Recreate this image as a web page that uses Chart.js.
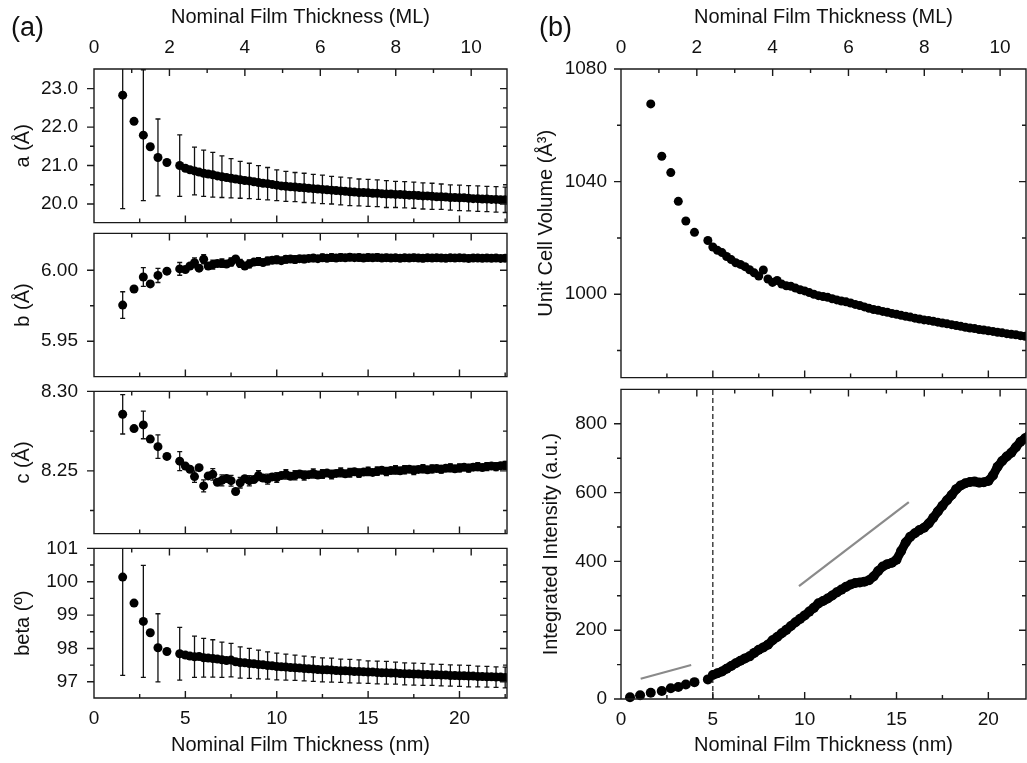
<!DOCTYPE html>
<html>
<head>
<meta charset="utf-8">
<script src="https://cdn.jsdelivr.net/npm/chart.js@4.4.1/dist/chart.umd.min.js"></script>
<style>
  body { margin: 0; background: #fff; }
  #fig { position: relative; width: 1027px; height: 763px; overflow: hidden; font-family: "Liberation Sans", Arial, sans-serif; }
  #fig canvas { position: absolute; }
  .tag { position: absolute; font-size: 27px; line-height: 1; color: #111; }
</style>
</head>
<body>
<div id="fig">
  <canvas id="cA"></canvas>
  <canvas id="cB"></canvas>
  <canvas id="cC"></canvas>
  <canvas id="cBeta"></canvas>
  <canvas id="cVol"></canvas>
  <canvas id="cInt"></canvas>
  <div class="tag" style="left:11px;top:14px">(a)</div>
  <div class="tag" style="left:539px;top:14px">(b)</div>
</div>
<script>
// ---- thickness grids (nm) ----
var leftEarlyNm = [1.57, 2.19, 2.70, 3.08, 3.50, 3.99, 4.69];
var volEarlyNm = [1.62, 2.22, 2.71, 3.12, 3.53, 4.00, 4.73];
var intEarlyNm = [0.49, 1.04, 1.62, 2.22, 2.71, 3.12, 3.53, 4.00, 4.73];
var denseNm = [
  5.00, 5.25, 5.50, 5.75, 6.00, 6.25, 6.50, 6.75, 7.00, 7.25,
  7.50, 7.75, 8.00, 8.25, 8.50, 8.75, 9.00, 9.25, 9.50, 9.75,
  10.00, 10.25, 10.50, 10.75, 11.00, 11.25, 11.50, 11.75, 12.00, 12.25,
  12.50, 12.75, 13.00, 13.25, 13.50, 13.75, 14.00, 14.25, 14.50, 14.75,
  15.00, 15.25, 15.50, 15.75, 16.00, 16.25, 16.50, 16.75, 17.00, 17.25,
  17.50, 17.75, 18.00, 18.25, 18.50, 18.75, 19.00, 19.25, 19.50, 19.75,
  20.00, 20.25, 20.50, 20.75, 21.00, 21.25, 21.50, 21.75, 22.00, 22.25,
  22.50
];
// positions that carry an error bar
var errNm = [1.57, 2.70, 3.50, 4.69, 5.5, 6, 6.5, 7, 7.5, 8, 8.5, 9, 9.5, 10,
  10.5, 11, 11.5, 12, 12.5, 13, 13.5, 14, 14.5, 15, 15.5, 16, 16.5, 17, 17.5,
  18, 18.5, 19, 19.5, 20, 20.5, 21, 21.5, 22, 22.5];

// ---- axis ticks ----
var nmTicks = [0, 5, 10, 15, 20];
var nmMinor = [2.5, 7.5, 12.5, 17.5, 22.5];
var mlTicks = [0, 2, 4, 6, 8, 10];
var mlMinor = [1, 3, 5, 7, 9];
var nmPerMl = 2.064;

// ---- a (Å) ----
var aEarly = [22.83, 22.15, 21.79, 21.49, 21.21, 21.08, 21.00];
var aDense = [
  20.93, 20.89, 20.86, 20.83, 20.80, 20.78, 20.76, 20.73, 20.71, 20.69,
  20.67, 20.65, 20.63, 20.61, 20.60, 20.58, 20.56, 20.54, 20.53, 20.51,
  20.49, 20.47, 20.46, 20.45, 20.44, 20.43, 20.42, 20.41, 20.40, 20.39,
  20.38, 20.37, 20.36, 20.35, 20.34, 20.33, 20.32, 20.31, 20.30, 20.30,
  20.29, 20.28, 20.28, 20.27, 20.26, 20.26, 20.25, 20.25, 20.24, 20.23,
  20.23, 20.22, 20.21, 20.21, 20.20, 20.19, 20.19, 20.18, 20.17, 20.17,
  20.16, 20.16, 20.15, 20.14, 20.14, 20.13, 20.13, 20.12, 20.12, 20.11,
  20.11
];
var aErr = [2.95, 1.70, 1.00, 0.80,
  0.62, 0.60, 0.58, 0.54, 0.51, 0.48, 0.46, 0.44, 0.42, 0.40,
  0.39, 0.38, 0.38, 0.37, 0.37, 0.36, 0.36, 0.36, 0.35, 0.35,
  0.35, 0.35, 0.34, 0.34, 0.34, 0.34, 0.34, 0.33, 0.33, 0.33,
  0.33, 0.33, 0.33, 0.33, 0.33];

// ---- b (Å) ----
var bEarly = [5.9755, 5.9868, 5.9953, 5.9904, 5.9964, 5.9994, 6.0010];
var bDense = [
  6.0005, 6.0030, 6.0053, 6.0015, 6.0078, 6.0030, 6.0040, 6.0048, 6.0050, 6.0044,
  6.0058, 6.0080, 6.0048, 6.0030, 6.0045, 6.0058, 6.0062, 6.0055, 6.0066, 6.0070,
  6.0074, 6.0068, 6.0077, 6.0080, 6.0076, 6.0082, 6.0080, 6.0084, 6.0086, 6.0082,
  6.0088, 6.0085, 6.0090, 6.0087, 6.0091, 6.0088, 6.0092, 6.0089, 6.0090, 6.0087,
  6.0090, 6.0088, 6.0091, 6.0087, 6.0089, 6.0086, 6.0088, 6.0085, 6.0088, 6.0086,
  6.0089, 6.0087, 6.0085, 6.0088, 6.0086, 6.0088, 6.0087, 6.0085, 6.0088, 6.0086,
  6.0088, 6.0086, 6.0084, 6.0087, 6.0086, 6.0085, 6.0087, 6.0085, 6.0086, 6.0084,
  6.0085
];
var bErr = [0.0094, 0.0066, 0.0050, 0.0045,
  0.0034, 0.0032, 0.0031, 0.0030, 0.0029, 0.0028, 0.0028, 0.0027, 0.0027, 0.0026,
  0.0026, 0.0026, 0.0025, 0.0025, 0.0025, 0.0025, 0.0024, 0.0024, 0.0024, 0.0024,
  0.0024, 0.0023, 0.0023, 0.0023, 0.0023, 0.0023, 0.0023, 0.0022, 0.0022, 0.0022,
  0.0022, 0.0022, 0.0022, 0.0022, 0.0022];

// ---- c (Å) ----
var cEarly = [8.2856, 8.2766, 8.2789, 8.2700, 8.2652, 8.2591, 8.2561];
var cDense = [
  8.2530, 8.2510, 8.2464, 8.2520, 8.2405, 8.2468, 8.2478, 8.2428, 8.2440, 8.2452,
  8.2438, 8.2370, 8.2425, 8.2450, 8.2438, 8.2445, 8.2470, 8.2455, 8.2448, 8.2462,
  8.2458, 8.2470, 8.2478, 8.2466, 8.2472, 8.2480, 8.2470, 8.2476, 8.2483, 8.2474,
  8.2480, 8.2486, 8.2477, 8.2484, 8.2490, 8.2482, 8.2488, 8.2494, 8.2486, 8.2492,
  8.2497, 8.2490, 8.2498, 8.2503, 8.2496, 8.2502, 8.2506, 8.2500, 8.2507, 8.2510,
  8.2503, 8.2509, 8.2513, 8.2507, 8.2512, 8.2515, 8.2510, 8.2516, 8.2519, 8.2513,
  8.2518, 8.2522, 8.2517, 8.2523, 8.2526, 8.2521, 8.2527, 8.2530, 8.2526, 8.2532,
  8.2535
];
var cErr = [0.0124, 0.0087, 0.0074, 0.0060,
  0.0036, 0.0038, 0.0036, 0.0035, 0.0034, 0.0033, 0.0032, 0.0031, 0.0031, 0.0030,
  0.0030, 0.0029, 0.0029, 0.0029, 0.0028, 0.0028, 0.0028, 0.0027, 0.0027, 0.0027,
  0.0027, 0.0026, 0.0026, 0.0026, 0.0026, 0.0026, 0.0025, 0.0025, 0.0025, 0.0025,
  0.0025, 0.0025, 0.0025, 0.0025, 0.0025];

// ---- beta (º) ----
var betaEarly = [100.14, 99.36, 98.81, 98.47, 98.02, 97.91, 97.84];
var betaDense = [
  97.80, 97.77, 97.75, 97.76, 97.72, 97.71, 97.70, 97.68, 97.66, 97.64,
  97.65, 97.60, 97.58, 97.57, 97.55, 97.54, 97.52, 97.51, 97.49, 97.48,
  97.46, 97.45, 97.44, 97.43, 97.42, 97.41, 97.40, 97.39, 97.38, 97.37,
  97.36, 97.36, 97.35, 97.34, 97.33, 97.33, 97.32, 97.31, 97.31, 97.30,
  97.29, 97.29, 97.28, 97.27, 97.27, 97.26, 97.26, 97.25, 97.24, 97.24,
  97.23, 97.23, 97.22, 97.22, 97.21, 97.21, 97.20, 97.20, 97.19, 97.19,
  97.18, 97.18, 97.17, 97.17, 97.16, 97.16, 97.15, 97.15, 97.14, 97.14,
  97.13
];
var betaErr = [2.95, 1.68, 1.02, 0.79,
  0.62, 0.58, 0.56, 0.53, 0.50, 0.47, 0.45, 0.43, 0.41, 0.40,
  0.39, 0.38, 0.37, 0.37, 0.36, 0.36, 0.35, 0.35, 0.35, 0.34,
  0.34, 0.34, 0.33, 0.33, 0.33, 0.33, 0.32, 0.32, 0.32, 0.32,
  0.32, 0.31, 0.31, 0.31, 0.31];

// ---- unit cell volume (Å³) ----
var volEarly = [1067.6, 1049.0, 1043.2, 1033.0, 1026.0, 1022.0, 1019.1];
var volDense = [
  1016.8, 1015.6, 1014.8, 1013.4, 1012.3, 1011.2, 1010.6, 1009.8, 1008.7, 1007.6,
  1006.5, 1008.6, 1005.4, 1004.2, 1004.9, 1003.6, 1003.0, 1002.8, 1002.2, 1001.6,
  1001.2, 1000.6, 1000.0, 999.5, 999.2, 998.9, 998.4, 998.0, 997.6, 997.3,
  996.9, 996.4, 996.0, 995.5, 995.0, 994.6, 994.3, 993.9, 993.6, 993.2,
  992.9, 992.5, 992.2, 991.9, 991.5, 991.2, 990.9, 990.7, 990.4, 990.1,
  989.8, 989.5, 989.2, 988.9, 988.6, 988.3, 988.0, 987.8, 987.5, 987.3,
  987.0, 986.8, 986.5, 986.3, 986.0, 985.8, 985.6, 985.3, 985.1, 984.9,
  984.7
];

// ---- integrated intensity (a.u.) ----
var intEarly = [5, 11, 18, 23, 31, 35, 42, 49, 57];
var intDense = [
  70, 75, 80, 88, 96, 104, 111, 118, 124, 134,
  143, 150, 158, 171, 180, 191, 201, 212, 223, 233,
  243, 254, 265, 278, 285, 292, 301, 310, 318, 326,
  333, 337, 339, 341, 345, 356, 372, 385, 392, 396,
  405, 430, 455, 472, 482, 491, 498, 510, 527, 545,
  562, 578, 593, 610, 621, 627, 631, 632, 629, 630,
  634, 650, 675, 692, 705, 716, 732, 748, 758, 768,
  775
];
// guide lines and onset marker
var guide1Nm = [1.07, 3.82], guide1Val = [59, 99];
var guide2Nm = [9.69, 15.67], guide2Val = [328, 572];
var onsetNm = [5, 5], onsetVal = [0, 900];

Chart.defaults.font.family = '"Liberation Sans", Arial, sans-serif';
Chart.defaults.color = '#111';

function pts(xs, ys) {
  return xs.map(function (x, i) { return { x: x, y: ys[i] }; });
}

function errorBars(xs, ys, ex, ev) {
  return ex.map(function (x, i) {
    var k = xs.findIndex(function (v) { return Math.abs(v - x) < 1e-6; });
    return { x: x, y: ys[k], e: ev[i] };
  });
}

function dots(data, r, band) {
  return {
    data: data, showLine: !!band, borderColor: '#000', borderWidth: band || 0,
    pointRadius: r || 4.5, pointBackgroundColor: '#000', pointBorderWidth: 0,
    clip: { left: 6, top: 6, right: 0, bottom: 6 }
  };
}

function segment(data, color, width, dash) {
  return {
    type: 'line', data: data, showLine: true, borderColor: color,
    borderWidth: width, borderDash: dash || [], pointRadius: 0, fill: false
  };
}

// frame, inward/outward ticks and error bars
var frameTicks = {
  id: 'frameTicks',
  beforeDatasetsDraw: function (chart, args, o) {
    if (!o.bars) return;
    var ctx = chart.ctx, a = chart.chartArea, sx = chart.scales.x, sy = chart.scales.y;
    ctx.save();
    ctx.beginPath();
    ctx.rect(a.left, a.top, a.right - a.left, a.bottom - a.top);
    ctx.clip();
    ctx.strokeStyle = '#111';
    ctx.lineWidth = 1.3;
    ctx.beginPath();
    o.bars.forEach(function (b) {
      var px = sx.getPixelForValue(b.x);
      var y1 = sy.getPixelForValue(b.y + b.e);
      var y2 = sy.getPixelForValue(b.y - b.e);
      ctx.moveTo(px, y1); ctx.lineTo(px, y2);
      ctx.moveTo(px - 2.5, y1); ctx.lineTo(px + 2.5, y1);
      ctx.moveTo(px - 2.5, y2); ctx.lineTo(px + 2.5, y2);
    });
    ctx.stroke();
    ctx.restore();
  },
  afterDraw: function (chart, args, o) {
    var ctx = chart.ctx, a = chart.chartArea, s = chart.scales;
    ctx.save();
    ctx.strokeStyle = '#1a1a1a';
    ctx.lineWidth = 1.4;
    ctx.beginPath();
    function inRange(sc, v) { return v >= sc.min - 1e-9 && v <= sc.max + 1e-9; }
    function yTick(list, len) {
      list.forEach(function (v) {
        if (!inRange(s.y, v)) return;
        var y = s.y.getPixelForValue(v);
        ctx.moveTo(a.left - len, y); ctx.lineTo(a.left, y);
        ctx.moveTo(a.right - len, y); ctx.lineTo(a.right, y);
      });
    }
    function xTick(sc, list, len, edge, dir) {
      list.forEach(function (v) {
        if (!inRange(sc, v)) return;
        var x = sc.getPixelForValue(v);
        ctx.moveTo(x, edge); ctx.lineTo(x, edge + dir * len);
      });
    }
    yTick(o.yMajor, 7);
    yTick(o.yMinor, 4);
    xTick(s.x, nmTicks, 7, a.bottom, -1);
    xTick(s.x, nmMinor, 4, a.bottom, -1);
    xTick(s.x2, mlTicks, 7, a.top, 1);
    xTick(s.x2, mlMinor, 4, a.top, 1);
    ctx.rect(a.left, a.top, a.right - a.left, a.bottom - a.top);
    ctx.stroke();
    ctx.restore();
  }
};

function hiddenGrid() { return { display: false, drawTicks: false }; }

// geo.area is the wanted plot frame, in page pixels
function makePanel(id, geo, p) {
  var cv = document.getElementById(id);
  cv.width = geo.w; cv.height = geo.h;
  cv.style.left = geo.x + 'px'; cv.style.top = geo.y + 'px';
  var chart = new Chart(cv, {
    type: 'scatter',
    data: { datasets: p.datasets },
    options: {
      responsive: false, animation: false, events: [],
      layout: { autoPadding: false, padding: { top: 0, right: 0, bottom: 0, left: 0 } },
      plugins: {
        legend: { display: false },
        tooltip: { enabled: false },
        frameTicks: { yMajor: p.yTicks, yMinor: p.yMinor, bars: p.bars }
      },
      scales: {
        x: {
          type: 'linear', min: 0, max: p.nmMax, display: !!p.bottom,
          afterFit: function (sc) { if (p.bottom) sc.height = geo.xh; },
          afterBuildTicks: function (sc) { sc.ticks = nmTicks.map(function (v) { return { value: v }; }); },
          grid: hiddenGrid(), border: { display: false },
          ticks: { padding: 9, maxRotation: 0, autoSkip: false, font: { size: 19 } },
          title: { display: true, text: 'Nominal Film Thickness (nm)', font: { size: 20 }, padding: { top: 0, bottom: 6 } }
        },
        x2: {
          type: 'linear', position: 'top', min: 0, max: p.nmMax / nmPerMl, display: !!p.top,
          afterFit: function (sc) { if (p.top) sc.height = 69; },
          afterBuildTicks: function (sc) { sc.ticks = mlTicks.map(function (v) { return { value: v }; }); },
          grid: hiddenGrid(), border: { display: false },
          ticks: { padding: 10, maxRotation: 0, autoSkip: false, font: { size: 19 } },
          title: { display: true, text: 'Nominal Film Thickness (ML)', font: { size: 20 }, padding: { top: 5, bottom: 0 } }
        },
        y: {
          type: 'linear', min: p.yMin, max: p.yMax,
          afterFit: function (sc) { sc.width = geo.yw; },
          afterBuildTicks: function (sc) { sc.ticks = p.yTicks.map(function (v) { return { value: v }; }); },
          grid: hiddenGrid(), border: { display: false },
          ticks: { padding: geo.tp, autoSkip: false, font: { size: 19 },
            callback: function (v) { return v.toFixed(p.dec); } },
          title: { display: true, text: p.yTitle, font: { size: 20 }, padding: { top: geo.tt, bottom: 0 } }
        }
      }
    },
    plugins: [frameTicks]
  });
  // nudge the layout padding until the plot frame sits where the figure has it
  var want = { left: geo.area[0] - geo.x, top: geo.area[1] - geo.y, right: geo.area[2] - geo.x, bottom: geo.area[3] - geo.y };
  for (var k = 0; k < 4; k++) {
    var a = chart.chartArea, pad = chart.options.layout.padding;
    var dt = want.top - a.top, db = a.bottom - want.bottom, dr = a.right - want.right;
    if (Math.abs(dt) + Math.abs(db) + Math.abs(dr) < 0.25) break;
    pad.top += dt; pad.bottom += db; pad.right += dr;
    chart.update();
  }
  return chart;
}

document.addEventListener('DOMContentLoaded', function () {
  var leftNm = leftEarlyNm.concat(denseNm);
  var leftMax = 22.6, rightMax = 22.05;

  var aAll = aEarly.concat(aDense);
  makePanel('cA', { x: 0, y: 0, w: 512, h: 250, area: [94, 69, 507, 226], yw: 94, tp: 16, tt: 11 }, {
    nmMax: leftMax, top: true, yMin: 19.517, yMax: 23.51, yTicks: [20, 21, 22, 23], yMinor: [20.5, 21.5, 22.5],
    dec: 1, yTitle: 'a (Å)', datasets: [dots(pts(leftNm, aAll))], bars: errorBars(leftNm, aAll, errNm, aErr)
  });

  var bAll = bEarly.concat(bDense);
  makePanel('cB', { x: 0, y: 206, w: 512, h: 198, area: [94, 226, 507, 384], yw: 94, tp: 16, tt: 11 }, {
    nmMax: leftMax, yMin: 5.9251, yMax: 6.026, yTicks: [5.95, 6.00], yMinor: [5.975],
    dec: 2, yTitle: 'b (Å)', datasets: [dots(pts(leftNm, bAll))], bars: errorBars(leftNm, bAll, errNm, bErr)
  });

  var cAll = cEarly.concat(cDense);
  makePanel('cC', { x: 0, y: 364, w: 512, h: 197, area: [94, 384, 507, 541], yw: 94, tp: 16, tt: 11 }, {
    nmMax: leftMax, yMin: 8.2105, yMax: 8.30, yTicks: [8.25, 8.30], yMinor: [8.225, 8.275],
    dec: 2, yTitle: 'c (Å)', datasets: [dots(pts(leftNm, cAll))], bars: errorBars(leftNm, cAll, errNm, cErr)
  });

  var betaAll = betaEarly.concat(betaDense);
  makePanel('cBeta', { x: 0, y: 521, w: 512, h: 242, area: [94, 541, 507, 698], yw: 94, xh: 65, tp: 16, tt: 11 }, {
    nmMax: leftMax, bottom: true, yMin: 96.514, yMax: 101, yTicks: [97, 98, 99, 100, 101], yMinor: [97.5, 98.5, 99.5, 100.5],
    dec: 0, yTitle: 'beta (º)', datasets: [dots(pts(leftNm, betaAll))], bars: errorBars(leftNm, betaAll, errNm, betaErr)
  });

  makePanel('cVol', { x: 525, y: 0, w: 502, h: 403, area: [621, 69, 1026, 383], yw: 96, tp: 14, tt: 9 }, {
    nmMax: rightMax, top: true, yMin: 970.4, yMax: 1080, yTicks: [1000, 1040, 1080], yMinor: [980, 1020, 1060],
    dec: 0, yTitle: 'Unit Cell Volume (Å³)',
    datasets: [dots(pts(volEarlyNm.concat(denseNm), volEarly.concat(volDense)))]
  });

  makePanel('cInt', { x: 525, y: 364, w: 502, h: 399, area: [621, 384, 1026, 699], yw: 96, xh: 64, tp: 14, tt: 14 }, {
    nmMax: rightMax, bottom: true, yMin: 0, yMax: 900, yTicks: [0, 200, 400, 600, 800], yMinor: [100, 300, 500, 700],
    dec: 0, yTitle: 'Integrated Intensity (a.u.)',
    datasets: [
      dots(pts(intEarlyNm, intEarly), 5),
      dots(pts(denseNm, intDense), 5, 9),
      segment(pts(onsetNm, onsetVal), '#111', 1.2, [5, 3]),
      segment(pts(guide1Nm, guide1Val), '#8a8a8a', 2.2),
      segment(pts(guide2Nm, guide2Val), '#8a8a8a', 2.2)
    ]
  });
});
</script>
</body>
</html>
